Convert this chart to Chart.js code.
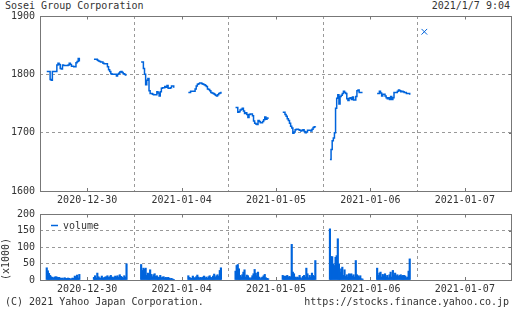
<!DOCTYPE html>
<html>
<head>
<meta charset="utf-8">
<script src="https://cdn.jsdelivr.net/npm/chart.js@4.4.1/dist/chart.umd.min.js"></script>
<style>
  html, body { margin: 0; padding: 0; background: #fff; }
  body { width: 512px; height: 310px; position: relative; overflow: hidden;
         font-family: "DejaVu Sans Mono", monospace; font-size: 10px; color: #333; }
  .txt { position: absolute; line-height: 12px; white-space: nowrap; }
  #price-wrap { position: absolute; left: 0; top: 0; width: 512px; height: 210px; }
  #volume-wrap { position: absolute; left: 0; top: 196px; width: 512px; height: 104px; }
</style>
</head>
<body>
<div class="txt" style="left:5px;top:0">Sosei Group Corporation</div>
<div class="txt" style="right:2px;top:0">2021/1/7 9:04</div>
<div id="price-wrap"><canvas id="price-chart"></canvas></div>
<div id="volume-wrap"><canvas id="volume-chart"></canvas></div>
<div class="txt" style="left:5px;top:296px">(C) 2021 Yahoo Japan Corporation.</div>
<div class="txt" style="right:3px;top:296px">https://stocks.finance.yahoo.co.jp</div>
<script>
// --- données : 5 minutes, matin 9:00-11:25, après-midi 12:30-14:55 ---
const dayLabels = ['2020-12-30', '2021-01-04', '2021-01-05', '2021-01-06', '2021-01-07'];

const price1230am = [1805,1805,1805,1791,1790,1805,1805,1805,1805,1816,1819,1817,1810,1809,1816,1815,1815,1815,1815,1816,1819,1817,1814,1814,1813,1813,1820,1822,1827,1822];
const price1230pm = [1826,1826,1826,1824,1823,1822,1821,1821,1819,1818,1818,1818,1813,1808,1805,1801,1800,1800,1800,1800,1797,1800,1802,1804,1805,1803,1801,1800,1799,1799];
const price0104am = [1821,1821,1810,1800,1782,1790,1793,1772,1767,1767,1766,1765,1765,1765,1770,1768,1763,1770,1776,1777,1777,1779,1778,1781,1776,1776,1777,1780,1780,1777];
const price0104pm = [1769,1769,1771,1771,1771,1771,1775,1780,1783,1784,1785,1785,1784,1783,1782,1781,1779,1775,1774,1772,1769,1768,1767,1766,1764,1763,1765,1767,1768,1770];
const price0105am = [1743,1743,1735,1736,1739,1740,1742,1737,1733,1734,1731,1726,1731,1732,1732,1729,1720,1716,1715,1714,1721,1719,1717,1717,1719,1722,1727,1723,1725,1726];
const price0105pm = [1735,1735,1731,1728,1724,1721,1716,1711,1708,1699,1701,1705,1706,1706,1705,1704,1703,1704,1705,1702,1700,1701,1704,1704,1704,1703,1706,1709,1710,1711];
const price0106am = [1654,1671,1686,1691,1700,1742,1759,1765,1749,1762,1764,1767,1771,1769,1767,1758,1755,1759,1760,1757,1761,1756,1756,1762,1772,1773,1769,1769,1769,1769];
const price0106pm = [1767,1767,1771,1768,1763,1766,1766,1763,1760,1758,1760,1757,1762,1757,1760,1769,1769,1769,1771,1773,1772,1770,1771,1770,1769,1769,1767,1767,1767,1765];

// volume (x1000)
const vol1230am = [37,28,20,14,10,8,6,9,10,9,7,8,6,5,6,4,7,5,4,6,5,3,4,6,5,12,8,15,6,17];
const vol1230pm = [8,13,6,21,10,7,5,12,6,7,9,10,13,8,10,14,9,5,9,12,10,13,8,16,11,9,6,13,9,49];
const vol0104am = [47,29,36,33,36,14,21,18,31,17,10,16,19,11,13,9,8,14,7,9,10,6,8,5,8,6,4,5,3,2];
const vol0104pm = [13,8,6,5,12,7,6,10,15,9,6,8,6,9,12,6,9,5,10,13,8,6,12,18,9,13,16,11,29,37];
const vol0105am = [27,44,47,34,14,9,16,24,31,9,15,13,7,4,7,13,19,32,21,13,24,9,4,7,9,13,17,7,5,4];
const vol0105pm = [14,11,12,11,14,9,11,9,108,24,19,9,7,9,7,14,7,4,11,14,9,36,19,7,14,9,21,14,11,59];
const vol0106am = [155,71,71,49,44,69,74,125,49,24,34,39,14,31,11,16,9,19,17,19,12,16,9,59,16,13,9,13,4,3];
const vol0106pm = [36,14,21,24,9,17,13,19,9,14,7,16,24,9,29,14,21,13,16,11,14,16,12,14,14,12,7,9,27,64];

// cotation affichée le 2021-01-07 à 9:00
const quoteDay = 4, quoteMinute = 9 * 60, quotePrice = 1873;

const AM = 9 * 60, PM = 12 * 60 + 30, STEP = 5;
const sessions = [
  [0, AM, price1230am, vol1230am], [0, PM, price1230pm, vol1230pm],
  [1, AM, price0104am, vol0104am], [1, PM, price0104pm, vol0104pm],
  [2, AM, price0105am, vol0105am], [2, PM, price0105pm, vol0105pm],
  [3, AM, price0106am, vol0106am], [3, PM, price0106pm, vol0106pm]
];

// une journée = 8:30 -> 15:30 sur l'axe
const toX = (day, minute) => day + (minute - 510) / 420;

const pricePoints = [];
const volumePoints = [];
sessions.forEach(([day, start, prices, vols]) => {
  prices.forEach((p, i) => pricePoints.push({ x: toX(day, start + i * STEP), y: p }));
  vols.forEach((v, i) => volumePoints.push({ x: toX(day, start + i * STEP), y: v }));
  pricePoints.push({ x: toX(day, start + prices.length * STEP), y: null });
});

const BLUE = '#0064dc';
const GRID = '#999';
const FRAME = '#777';
Chart.defaults.font.family = '"DejaVu Sans Mono", monospace';
Chart.defaults.font.size = 10;
Chart.defaults.color = '#333';

const isCenter = v => Math.abs(v % 1 - 0.5) < 1e-6;

function dayAxis(height) {
  return {
    type: 'linear', min: 0, max: 5, offset: false,
    afterBuildTicks: s => { s.ticks = Array.from({ length: 11 }, (_, i) => ({ value: i / 2 })); },
    // pas de marge latérale : l'axe occupe toute la largeur
    afterFit: s => { s.height = height; s.paddingLeft = 0; s.paddingRight = 0; },
    grid: {
      offset: false, drawTicks: false, lineWidth: 1,
      color: c => (c.tick && c.tick.value % 1 === 0 && c.tick.value > 0 && c.tick.value < 5) ? GRID : 'rgba(0,0,0,0)'
    },
    border: { display: false, dash: [3, 3] },
    ticks: {
      autoSkip: false, maxRotation: 0, minRotation: 0, padding: 3,
      callback: v => isCenter(v) ? dayLabels[Math.floor(v)] : ''
    }
  };
}

function valueAxis(min, max, step, extra) {
  return Object.assign({
    min, max,
    afterBuildTicks: s => { s.ticks = []; for (let v = min; v <= max; v += step) s.ticks.push({ value: v }); },
    afterFit: s => { s.width = 40; },
    grid: {
      drawTicks: false, lineWidth: 1,
      color: c => (c.tick && c.tick.value > min && c.tick.value < max) ? GRID : 'rgba(0,0,0,0)'
    },
    border: { display: false, dash: [3, 3] },
    ticks: { padding: 5, callback: v => String(v) }
  }, extra || {});
}

// cadre et petites graduations intérieures
const framePlugin = {
  id: 'frame',
  afterDraw(chart) {
    const { ctx, chartArea: a, scales: { x, y } } = chart;
    ctx.save();
    ctx.strokeStyle = FRAME;
    ctx.lineWidth = 1;
    ctx.beginPath();
    x.ticks.forEach(t => {
      if (!isCenter(t.value)) return;
      const px = Math.round(x.getPixelForValue(t.value)) + 0.5;
      ctx.moveTo(px, a.top); ctx.lineTo(px, a.top + 3.5);
      ctx.moveTo(px, a.bottom); ctx.lineTo(px, a.bottom - 3);
    });
    y.ticks.forEach(t => {
      const py = Math.round(y.getPixelForValue(t.value)) + 0.5;
      ctx.moveTo(a.right, py); ctx.lineTo(a.right - 3, py);
    });
    ctx.stroke();
    ctx.strokeRect(Math.round(a.left) + 0.5, Math.round(a.top) + 0.5,
      Math.round(a.right - a.left) - 1, Math.round(a.bottom - a.top));
    ctx.restore();
  }
};

const legendPlugin = {
  id: 'volumeLegend',
  afterDraw(chart) {
    const { ctx, chartArea: a } = chart;
    const ds = chart.data.datasets[0];
    ctx.save();
    ctx.strokeStyle = ds.backgroundColor;
    ctx.lineWidth = 1.5;
    ctx.beginPath();
    ctx.moveTo(a.left + 11, a.top + 11.5);
    ctx.lineTo(a.left + 18, a.top + 11.5);
    ctx.stroke();
    ctx.fillStyle = '#333';
    ctx.font = '10px "DejaVu Sans Mono", monospace';
    ctx.textBaseline = 'alphabetic';
    ctx.fillText(ds.label, a.left + 23, a.top + 15);
    ctx.restore();
  }
};

new Chart(document.getElementById('price-chart'), {
  type: 'line',
  data: {
    datasets: [
      {
        label: 'price', data: pricePoints, borderColor: BLUE, borderWidth: 1.5,
        pointRadius: 0, stepped: true, spanGaps: false, fill: false
      },
      {
        label: 'quote', data: [{ x: toX(quoteDay, quoteMinute), y: quotePrice }],
        showLine: false, pointStyle: 'crossRot', pointRadius: 4, borderColor: BLUE, borderWidth: 1
      }
    ]
  },
  options: {
    responsive: true, maintainAspectRatio: false, animation: false,
    layout: { autoPadding: false, padding: { top: 16, right: 0, left: 0, bottom: 0 } },
    scales: { x: dayAxis(19), y: valueAxis(1600, 1900, 100) },
    plugins: { legend: { display: false }, tooltip: { enabled: false } }
  },
  plugins: [framePlugin]
});

new Chart(document.getElementById('volume-chart'), {
  type: 'bar',
  data: {
    datasets: [{
      label: 'volume', data: volumePoints, backgroundColor: BLUE, barThickness: 1.5
    }]
  },
  options: {
    responsive: true, maintainAspectRatio: false, animation: false,
    layout: { autoPadding: false, padding: { top: 18, right: 0, left: 0, bottom: 0 } },
    scales: {
      x: dayAxis(20),
      y: valueAxis(0, 200, 50, {
        title: { display: true, text: '(x1000)', align: 'start', padding: { top: 0, bottom: 0 } }
      })
    },
    plugins: { legend: { display: false }, tooltip: { enabled: false } }
  },
  plugins: [framePlugin, legendPlugin]
});
</script>
</body>
</html>
